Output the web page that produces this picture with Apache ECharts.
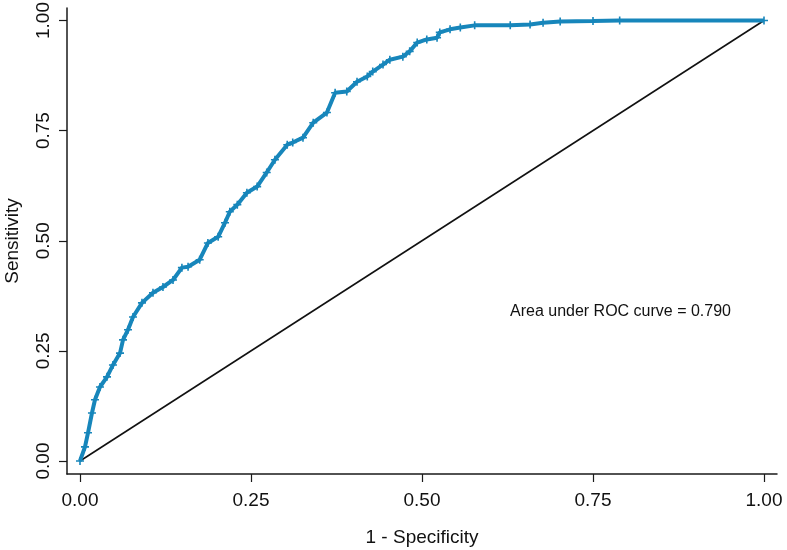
<!DOCTYPE html>
<html>
<head>
<meta charset="utf-8">
<script src="https://cdn.jsdelivr.net/npm/echarts@6/dist/echarts.min.js"></script>
<style>
html,body{margin:0;padding:0;background:#fff;}
#chart{width:787px;height:550px;}
</style>
</head>
<body>
<div id="chart"></div>
<script>
// ROC curve points: [1 - specificity, sensitivity]
var rocFpr = [0, 0.0073, 0.0117, 0.0175, 0.0219, 0.0292, 0.0395, 0.0482, 0.0585, 0.0629, 0.0702, 0.0775, 0.0906, 0.1067, 0.1213, 0.136, 0.149, 0.158, 0.175, 0.187, 0.202, 0.212, 0.219, 0.230, 0.244, 0.259, 0.273, 0.285, 0.303, 0.311, 0.326, 0.341, 0.361, 0.373, 0.390, 0.405, 0.420, 0.428, 0.443, 0.453, 0.472, 0.482, 0.493, 0.507, 0.522, 0.526, 0.541, 0.556, 0.577, 0.629, 0.658, 0.677, 0.702, 0.75, 0.789, 1];
var rocTpr = [0, 0.032, 0.064, 0.109, 0.139, 0.168, 0.191, 0.218, 0.245, 0.275, 0.298, 0.327, 0.359, 0.382, 0.395, 0.411, 0.439, 0.441, 0.457, 0.495, 0.509, 0.541, 0.566, 0.582, 0.609, 0.623, 0.655, 0.684, 0.718, 0.723, 0.734, 0.768, 0.791, 0.836, 0.839, 0.861, 0.873, 0.884, 0.900, 0.911, 0.918, 0.930, 0.950, 0.957, 0.961, 0.973, 0.980, 0.984, 0.989, 0.989, 0.991, 0.995, 0.998, 0.999, 1.0, 1.0];
var refX = [0, 1];
var refY = [0, 1];
var tickValues = [0, 0.25, 0.5, 0.75, 1];
var xTitle = '1 - Specificity';
var yTitle = 'Sensitivity';
var aucText = 'Area under ROC curve = 0.790';

var rocData = rocFpr.map(function (v, i) { return [v, rocTpr[i]]; });
var refData = refX.map(function (v, i) { return [v, refY[i]]; });

var FONT = 'Liberation Sans, Arial, sans-serif';
var chart = echarts.init(document.getElementById('chart'), null, {renderer: 'canvas'});
var axisCommon = {
  type: 'value',
  splitLine: {show: false},
  axisLine: {show: true, onZero: false, lineStyle: {color: '#1a1a1a', width: 1.5}},
  axisTick: {show: true, customValues: tickValues, length: 8, lineStyle: {color: '#1a1a1a', width: 1.2}},
  axisLabel: {show: true, customValues: tickValues, color: '#111', fontSize: 19, fontFamily: FONT,
    formatter: function (v) { return v.toFixed(2); }},
  nameLocation: 'middle',
  nameTextStyle: {color: '#111', fontSize: 19, fontFamily: FONT}
};
var option = {
  backgroundColor: '#ffffff',
  animation: false,
  grid: {left: 67, right: 10, top: 8, bottom: 76, containLabel: false, outerBoundsMode: 'none'},
  xAxis: echarts.util.merge({
    min: -0.019, max: 1.019,
    name: xTitle, nameGap: 54,
    axisLabel: {margin: 17}
  }, axisCommon),
  yAxis: echarts.util.merge({
    min: -0.0295, max: 1.0284,
    name: yTitle, nameGap: 45,
    axisLabel: {margin: 14, rotate: 90}
  }, axisCommon),
  series: [
    {
      type: 'line',
      data: refData,
      symbol: 'none',
      lineStyle: {color: '#111', width: 1.6},
      z: 2
    },
    {
      type: 'line',
      data: rocData,
      symbol: 'path://M4 0h2v4h4v2H6v4H4V6H0V4h4z',
      symbolSize: 8,
      showAllSymbol: true,
      itemStyle: {color: '#1786bb'},
      lineStyle: {color: '#1786bb', width: 4},
      z: 3
    }
  ],
  graphic: [
    {type: 'text', left: 510, top: 304, style: {text: aucText, font: '16px ' + FONT, fill: '#111'}}
  ]
};
chart.setOption(option);
</script>
</body>
</html>
